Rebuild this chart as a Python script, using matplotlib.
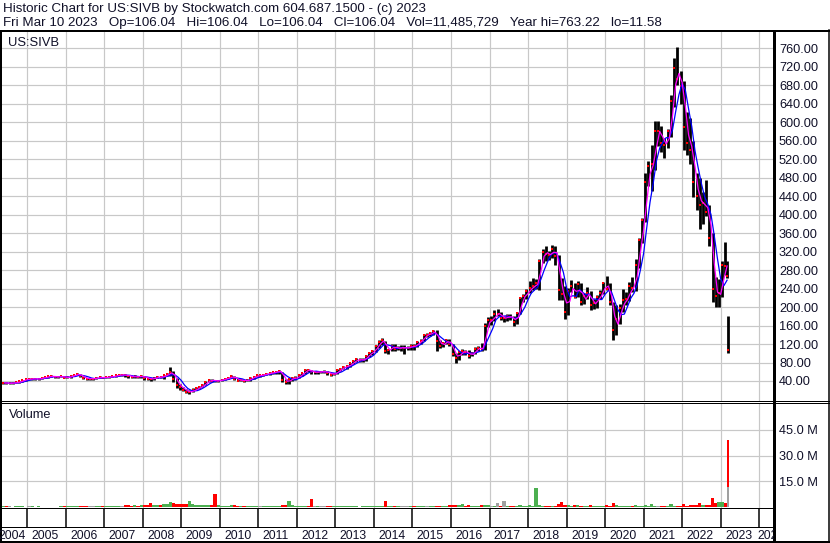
import numpy as np
import pandas as pd
import matplotlib
matplotlib.use("Agg")
import matplotlib.pyplot as plt
from matplotlib.lines import Line2D

plt.rcParams["font.family"] = ["Liberation Sans", "DejaVu Sans"]
plt.rcParams["font.size"] = 9

W, H = 830, 543

# ---- monthly data, May 2004 .. Feb 2023 (prices in $, volume in millions) ----
close = [
    36, 35, 35, 36, 37, 39, 42, 44,                                  # 2004
    44, 45, 44, 45, 47, 48, 50, 50, 49, 49, 50, 47,                  # 2005
    48, 51, 53, 55, 50, 46, 45, 45, 45, 47, 48, 47,                  # 2006
    48, 49, 50, 52, 53, 53, 52, 51, 48, 50, 49, 50,                  # 2007
    47, 45, 44, 47, 49, 48, 52, 55, 60, 45, 32, 26,                  # 2008
    21, 16, 17, 20, 24, 27, 32, 38, 42, 41, 40, 41,                  # 2009
    43, 45, 47, 50, 45, 41, 42, 40, 42, 47, 49, 52,                  # 2010
    52, 54, 56, 57, 59, 60, 61, 42, 37, 44, 46, 47,                  # 2011
    52, 57, 64, 63, 59, 59, 60, 60, 60, 57, 54, 56,                  # 2012
    63, 67, 71, 72, 78, 83, 87, 85, 86, 95, 100, 105,                # 2013
    115, 125, 128, 106, 108, 116, 110, 112, 112, 112, 112, 116,      # 2014
    115, 125, 127, 140, 140, 144, 148, 127, 116, 122, 128, 119,      # 2015
    98, 90, 102, 104, 102, 95, 100, 110, 111, 110, 160, 172,         # 2016
    172, 186, 186, 176, 176, 180, 178, 168, 187, 219, 225, 234,      # 2017
    242, 246, 252, 300, 320, 315, 312, 325, 311, 237, 228, 190,      # 2018
    234, 246, 222, 250, 210, 224, 231, 205, 209, 221, 230, 251,      # 2019
    240, 210, 151, 175, 198, 215, 218, 245, 241, 290, 345, 388,      # 2020
    470, 505, 510, 580, 580, 556, 550, 580, 647, 717, 694, 678,      # 2021
    590, 555, 540, 470, 440, 420, 425, 405, 350, 240, 225, 230,      # 2022
    290, 288,                                                        # 2023
]
high = [
    38, 37, 37, 37, 38, 40, 43, 45,
    46, 46, 46, 46, 48, 49, 51, 52, 51, 50, 51, 51,
    50, 52, 54, 57, 56, 51, 47, 47, 47, 48, 50, 49,
    49, 51, 51, 54, 55, 55, 55, 53, 51, 52, 51, 52,
    51, 48, 47, 49, 51, 51, 54, 58, 70, 61, 46, 33,
    27, 23, 20, 24, 27, 29, 33, 40, 44, 44, 42, 43,
    45, 46, 49, 52, 51, 46, 44, 43, 44, 48, 50, 53,
    54, 56, 58, 59, 60, 62, 63, 60, 44, 47, 49, 50,
    55, 58, 65, 66, 64, 61, 62, 62, 63, 62, 58, 58,
    65, 68, 72, 74, 79, 85, 89, 89, 89, 97, 102, 107,
    118, 128, 133, 126, 110, 119, 120, 116, 117, 117, 116, 120,
    120, 126, 131, 142, 143, 146, 151, 150, 129, 125, 131, 130,
    120, 100, 104, 110, 108, 107, 102, 114, 115, 122, 165, 178,
    180, 193, 196, 190, 180, 184, 185, 180, 190, 222, 228, 240,
    256, 262, 260, 304, 325, 333, 322, 334, 333, 312, 262, 245,
    241, 258, 252, 257, 252, 230, 243, 234, 218, 227, 236, 254,
    268, 252, 212, 205, 207, 240, 232, 255, 265, 303, 350, 393,
    490, 515, 550, 603, 603, 591, 566, 586, 659, 740, 763, 711,
    690, 622, 610, 560, 490, 480, 448, 475, 420, 360, 265, 260,
    300, 340,
]
low = [
    34, 33, 33, 34, 35, 36, 38, 41,
    42, 43, 42, 43, 44, 46, 47, 48, 47, 46, 48, 46,
    46, 47, 50, 52, 49, 45, 42, 43, 43, 44, 46, 46,
    46, 47, 48, 49, 51, 51, 49, 46, 46, 47, 47, 47,
    42, 43, 40, 43, 46, 46, 45, 50, 50, 38, 25, 21,
    18, 14, 12, 16, 20, 23, 26, 31, 37, 38, 37, 38,
    40, 42, 44, 46, 42, 40, 39, 37, 39, 41, 45, 48,
    49, 51, 53, 54, 55, 56, 55, 38, 33, 34, 41, 43,
    46, 51, 56, 60, 55, 55, 55, 57, 57, 54, 50, 53,
    56, 62, 65, 67, 71, 76, 82, 82, 82, 84, 93, 97,
    103, 112, 117, 100, 98, 106, 106, 107, 105, 98, 107, 108,
    108, 113, 120, 126, 136, 138, 140, 104, 112, 113, 120, 116,
    95, 80, 86, 97, 97, 89, 94, 99, 105, 104, 108, 157,
    162, 170, 180, 172, 168, 170, 172, 160, 164, 185, 210, 218,
    230, 237, 240, 238, 296, 300, 302, 306, 290, 215, 215, 175,
    182, 232, 220, 221, 205, 206, 218, 193, 196, 198, 218, 228,
    236, 205, 128, 140, 164, 190, 204, 213, 232, 235, 284, 338,
    385, 462, 452, 497, 548, 535, 522, 544, 568, 634, 680, 640,
    540, 530, 510, 438, 410, 370, 380, 398, 332, 212, 200, 200,
    222, 270,
]
volume = [
    0.5, 0.6, 0.5, 0.4, 0.5, 0.6, 0.5, 0.4,
    0.5, 0.6, 0.4, 0.5, 0.3, 0.2, 0.2, 0.2, 0.3, 0.3, 0.5, 0.6,
    0.6, 0.7, 0.8, 0.9, 0.8, 0.7, 0.6, 0.6, 0.5, 0.7, 0.6, 0.6,
    0.7, 0.8, 0.9, 0.8, 0.9, 1.0, 1.2, 1.4, 1.0, 1.1, 1.0, 1.1,
    1.6, 1.3, 2.7, 1.4, 1.2, 1.3, 2.2, 1.8, 2.8, 2.4, 2.0, 1.8,
    1.9, 2.1, 3.5, 2.0, 1.6, 1.5, 1.4, 1.2, 1.3, 1.2, 7.5, 1.2,
    1.0, 0.9, 1.0, 1.3, 1.1, 1.0, 0.9, 0.8, 0.9, 1.0, 0.9, 0.8,
    0.9, 0.9, 0.8, 0.9, 0.8, 0.9, 1.0, 1.6, 1.3, 3.5, 1.1, 1.0,
    0.9, 0.8, 1.0, 0.9, 4.6, 0.8, 0.7, 0.6, 0.6, 0.7, 0.6, 0.6,
    0.6, 0.5, 0.6, 0.6, 0.5, 0.6, 0.5, 0.4, 0.5, 0.6, 0.5, 0.5,
    0.6, 0.7, 0.7, 3.5, 0.8, 0.6, 0.6, 0.5, 0.6, 0.7, 0.6, 0.6,
    0.7, 0.6, 0.6, 0.7, 0.6, 0.6, 0.8, 1.0, 0.9, 1.0, 0.8, 1.1,
    1.3, 1.6, 1.1, 2.2, 1.0, 1.2, 0.9, 0.8, 0.9, 1.3, 1.5, 1.2,
    1.0, 0.9, 2.3, 1.0, 3.5, 0.9, 0.9, 1.0, 0.9, 1.4, 0.8, 1.0,
    1.1, 1.0, 11.0, 1.6, 1.0, 0.9, 0.9, 1.0, 0.8, 1.9, 2.8, 1.6,
    1.2, 1.0, 1.1, 1.4, 1.0, 0.9, 1.0, 1.2, 0.9, 1.0, 0.9, 1.0,
    1.1, 1.0, 2.4, 1.3, 1.0, 0.9, 0.8, 0.9, 0.8, 1.1, 1.0, 1.0,
    1.3, 1.0, 2.0, 0.9, 0.8, 0.8, 0.7, 0.8, 2.0, 1.0, 0.8, 0.9,
    2.0, 1.0, 1.2, 1.3, 1.4, 2.3, 1.5, 1.3, 1.6, 5.6, 2.5, 3.0,
    3.0, 2.4,
]

# ---- final days, March 2023 ----
tail_dates = ["2023-03-03", "2023-03-09", "2023-03-10"]
tail_close = [268, 106.04, 106.04]
tail_high = [300, 180, 106.04]
tail_low = [262, 100.8, 106.04]
tail_volume = [2.2, 39.0, 11.49]

price_ticks = list(range(40, 800, 40))
vol_ticks = [15, 30, 45]
years = list(range(2004, 2025))

header1 = "Historic Chart for US:SIVB by Stockwatch.com 604.687.1500 - (c) 2023"
header2 = ("Fri Mar 10 2023   Op=106.04   Hi=106.04   Lo=106.04   Cl=106.04   "
           "Vol=11,485,729   Year hi=763.22   lo=11.58")

# ------------------------------------------------------------------ #

months = pd.period_range("2004-05", periods=len(close), freq="M")
x_m = np.array([p.year + (p.month - 0.5) / 12 for p in months])
x_t = np.array([d.year + (d.dayofyear - 1) / 365.0 for d in pd.to_datetime(tail_dates)])

x_all = np.concatenate([x_m, x_t])
c_all = np.array(close + tail_close, dtype=float)
h_all = np.array(high + tail_high, dtype=float)
l_all = np.array(low + tail_low, dtype=float)
v_all = np.array(volume + tail_volume, dtype=float)
widths = np.concatenate([np.full(len(x_m), 1 / 12), np.full(len(x_t), 0.05)])

chg = np.diff(np.concatenate([[c_all[0] - 1], c_all]))
vcol = np.where(chg > 0, "#4caf50", np.where(chg < 0, "#ff0000", "#a0a0a0"))

# moving averages, plotted at month end
x_ma = x_m + 1 / 24
ma_short = pd.Series(close, dtype=float).rolling(2, min_periods=1).mean()
ma_long = pd.Series(close, dtype=float).rolling(4, min_periods=1).mean()

XL = (2004.291, 2024.385)
GRID = "#c8c8c8"
TXT = "#101028"
PX = 72.0 / 100  # one pixel in points


def rect(x0, y0, x1, y1):
    return [x0 / W, 1 - y1 / H, (x1 - x0) / W, (y1 - y0) / H]


def fig_line(fig, x0, y0, x1, y1, lw):
    fig.add_artist(Line2D([x0 / W, x1 / W], [1 - y0 / H, 1 - y1 / H],
                          transform=fig.transFigure, color="black", lw=lw * PX))


fig = plt.figure(figsize=(W / 100, H / 100), dpi=100)

ax_p = fig.add_axes(rect(0, 31, 774, 400.5))
ax_v = fig.add_axes(rect(0, 402.5, 774, 509))
ax_t = fig.add_axes(rect(0, 509, 774, 528))
ax_l = fig.add_axes(rect(0, 528, 774, 542))

for ax in (ax_p, ax_v, ax_t, ax_l):
    ax.set_xlim(*XL)
    ax.set_xticks(years[1:])
    ax.tick_params(axis="x", length=0, labelbottom=False)
    for s in ax.spines.values():
        s.set_color("black")
    ax.spines["left"].set_linewidth(3 * PX)
    ax.spines["right"].set_linewidth(3 * PX)
    ax.spines["top"].set_visible(False)
    ax.spines["bottom"].set_linewidth(1 * PX)

# price panel
ax_p.set_ylim(-2.2, 797.4)
ax_p.set_yticks(price_ticks)
ax_p.set_yticklabels(["{:.2f}".format(t) for t in price_ticks])
ax_p.yaxis.tick_right()
ax_p.tick_params(axis="y", length=0, pad=5 * PX, labelsize=9.2, labelcolor=TXT)
ax_p.grid(True, color=GRID, lw=1.2 * PX)
ax_p.set_axisbelow(True)

ax_p.vlines(x_all, l_all, h_all, color="black", lw=2.0)
ax_p.plot(x_all, c_all, "s", color="red", ms=2.0, mew=0)
ax_p.plot(x_ma, ma_long, color="#0000ff", lw=0.9)
ax_p.plot(x_ma, ma_short, color="#ff00ff", lw=0.9)
fig.text(8 / W, 1 - 46 / H, "US:SIVB", fontsize=9.4, color=TXT, va="baseline")

# volume panel
ax_v.set_ylim(-0.99, 60.8)
ax_v.set_yticks(vol_ticks)
ax_v.set_yticklabels(["{:.1f} M".format(t) for t in vol_ticks])
ax_v.yaxis.tick_right()
ax_v.tick_params(axis="y", length=0, pad=5 * PX, labelsize=9.2, labelcolor=TXT)
ax_v.grid(True, color=GRID, lw=1.2 * PX)
ax_v.set_axisbelow(True)
ax_v.spines["top"].set_visible(True)
ax_v.spines["top"].set_linewidth(1 * PX)
ax_v.spines["bottom"].set_linewidth(3 * PX)
ax_v.bar(x_all, v_all, width=widths, color=vcol, lw=0)
fig.text(9 / W, 1 - 418 / H, "Volume", fontsize=9.2, color=TXT, va="baseline")

# year tick row
ax_t.set_ylim(0, 1)
ax_t.set_yticks([])
ax_t.spines["bottom"].set_linewidth(3 * PX)
for y in years[1:]:
    ax_t.axvline(y, color="black", lw=1.5 * PX)

# year label row
ax_l.set_ylim(0, 1)
ax_l.set_yticks([])
ax_l.spines["bottom"].set_linewidth(3 * PX)
for y in years:
    if y == 2004:
        xx, ha = y + 1 - 0.034, "right"
    elif y == 2024:
        xx, ha = y - 0.036, "left"
    else:
        xx, ha = y + 0.114, "left"
    ax_l.text(xx, 0.18, str(y), ha=ha, va="baseline", fontsize=8.8,
              color=TXT, clip_on=True)

# frame lines outside the axes
fig_line(fig, 0, 30.5, W, 30.5, 2)
fig_line(fig, 774, 400.5, W, 400.5, 1)
fig_line(fig, 774, 402.5, W, 402.5, 1)
fig_line(fig, 0, 542, W, 542, 2)
fig_line(fig, 829, 30, 829, 543, 1.5)

fig.text(3 / W, 1 - 12 / H, header1, fontsize=9.6, color=TXT, va="baseline")
fig.text(3 / W, 1 - 26 / H, header2, fontsize=9.6, color=TXT, va="baseline")

fig.savefig("out.png", dpi=100)
